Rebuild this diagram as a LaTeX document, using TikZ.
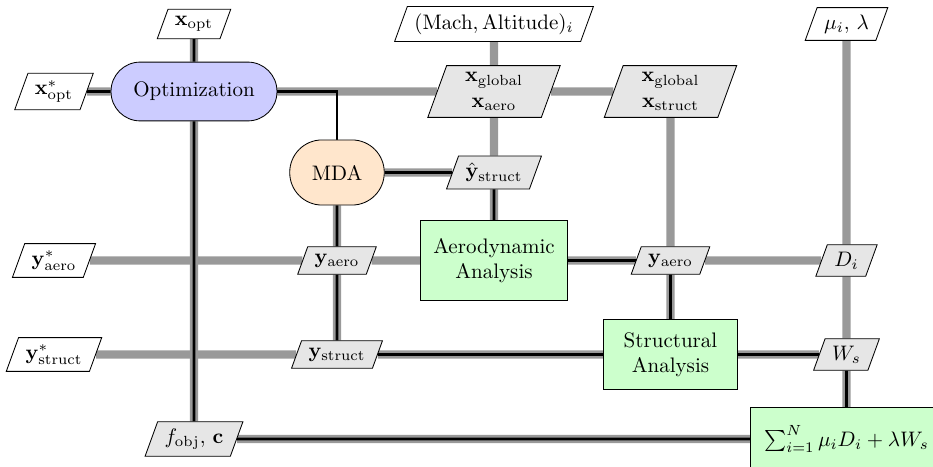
\documentclass[tikz,border=0pt]{standalone}
\usepackage{amsmath}
\usetikzlibrary{shapes.geometric,backgrounds}

\definecolor{optfill}{HTML}{CCCCFF}
\definecolor{mdafill}{HTML}{FFE6CC}
\definecolor{anafill}{HTML}{CCFFCC}
\definecolor{datafill}{HTML}{E6E6E6}
\definecolor{datagray}{HTML}{999999}

\tikzset{
  optim/.style={draw, rounded corners=13.9pt, fill=optfill, minimum width=79pt, minimum height=28pt},
  mdabox/.style={draw, rounded corners=15.4pt, fill=mdafill, minimum width=45pt, minimum height=31pt},
  anabox/.style={draw, fill=anafill, align=center},
  databox/.style={draw, shape=trapezium, trapezium left angle=70, trapezium right angle=110,
    trapezium stretches body, fill=datafill, align=center},
  inbox/.style={databox, fill=white},
  dataline/.style={line width=4pt, draw=datagray},
  procline/.style={line width=1.2pt, draw=black},
}

\begin{document}
\begin{tikzpicture}[x=0.476pt, y=-0.476pt]
  \useasboundingbox (0,0) rectangle (933,467);

  % components
  \node[optim] (opt) at (194,91.5) {Optimization};
  \node[mdabox] (mda) at (337,172.5) {MDA};
  \node[anabox, minimum width=70pt, minimum height=38pt] (aero) at (494,260.5) {Aerodynamic\\Analysis};
  \node[anabox, minimum width=64pt, minimum height=33pt] (struct) at (670.5,354.5) {Structural\\Analysis};
  \node[anabox, minimum width=91.5pt, minimum height=30pt] (func) at (846.5,439) {$\sum_{i=1}^N \mu_i D_i + \lambda W_s$};

  % inputs
  \node[inbox] (xopt) at (194,24) {$\mathbf{x}_{\mathrm{opt}}$};
  \node[inbox] (mach) at (494,24) {$(\mathrm{Mach}, \mathrm{Altitude})_i$};
  \node[inbox] (mulam) at (846.5,24) {$\mu_i,\, \lambda$};
  \node[inbox] (xoptstar) at (54,91.5) {$\mathbf{x}^{*}_{\mathrm{opt}}$};
  \node[inbox] (yaerostar) at (54,260.5) {$\mathbf{y}^{*}_{\mathrm{aero}}$};
  \node[inbox] (ystructstar) at (54,354.5) {$\mathbf{y}^{*}_{\mathrm{struct}}$};

  % data
  \node[databox, minimum width=63pt] (xaero) at (494,91.5) {$\mathbf{x}_{\mathrm{global}}$\\$\mathbf{x}_{\mathrm{aero}}$};
  \node[databox, minimum width=63pt] (xstruct) at (670.5,91.5) {$\mathbf{x}_{\mathrm{global}}$\\$\mathbf{x}_{\mathrm{struct}}$};
  \node[databox] (yhat) at (494,172.5) {$\hat{\mathbf{y}}_{\mathrm{struct}}$};
  \node[databox] (yaeroA) at (337,260.5) {$\mathbf{y}_{\mathrm{aero}}$};
  \node[databox] (yaeroB) at (670.5,260.5) {$\mathbf{y}_{\mathrm{aero}}$};
  \node[databox] (Di) at (846.5,260.5) {$D_i$};
  \node[databox] (ystructA) at (337,354.5) {$\mathbf{y}_{\mathrm{struct}}$};
  \node[databox] (Ws) at (846.5,354.5) {$W_s$};
  \node[databox] (fobj) at (194,439) {$f_{\mathrm{obj}},\, \mathbf{c}$};

  \begin{pgfonlayer}{background}
    % data flow
    \draw[dataline] (xopt) -- (opt) -- (fobj);
    \draw[dataline] (xoptstar) -- (opt) -- (xaero) -- (xstruct);
    \draw[dataline] (mach) -- (xaero) -- (yhat) -- (aero);
    \draw[dataline] (mda) -- (yhat);
    \draw[dataline] (xstruct) -- (yaeroB) -- (struct);
    \draw[dataline] (mulam) -- (Di) -- (Ws) -- (func);
    \draw[dataline] (yaerostar) -- (yaeroA) -- (aero) -- (yaeroB) -- (Di);
    \draw[dataline] (ystructstar) -- (ystructA) -- (struct) -- (Ws);
    \draw[dataline] (mda) -- (yaeroA) -- (ystructA);
    \draw[dataline] (fobj) -- (func);
    % process flow
    \draw[procline] (xopt) -- (opt);
    \draw[procline] (xoptstar) -- (opt);
    \draw[procline] (opt) -| (mda);
    \draw[procline] (mda) -- (yhat) -- (aero);
    \draw[procline] (aero) -- (yaeroB) -- (struct);
    \draw[procline] (struct) -- (Ws) -- (func);
    \draw[procline] (struct) -- (ystructA) -- (yaeroA) -- (mda);
    \draw[procline] (func) -- (fobj) -- (opt);
  \end{pgfonlayer}
\end{tikzpicture}
\end{document}
